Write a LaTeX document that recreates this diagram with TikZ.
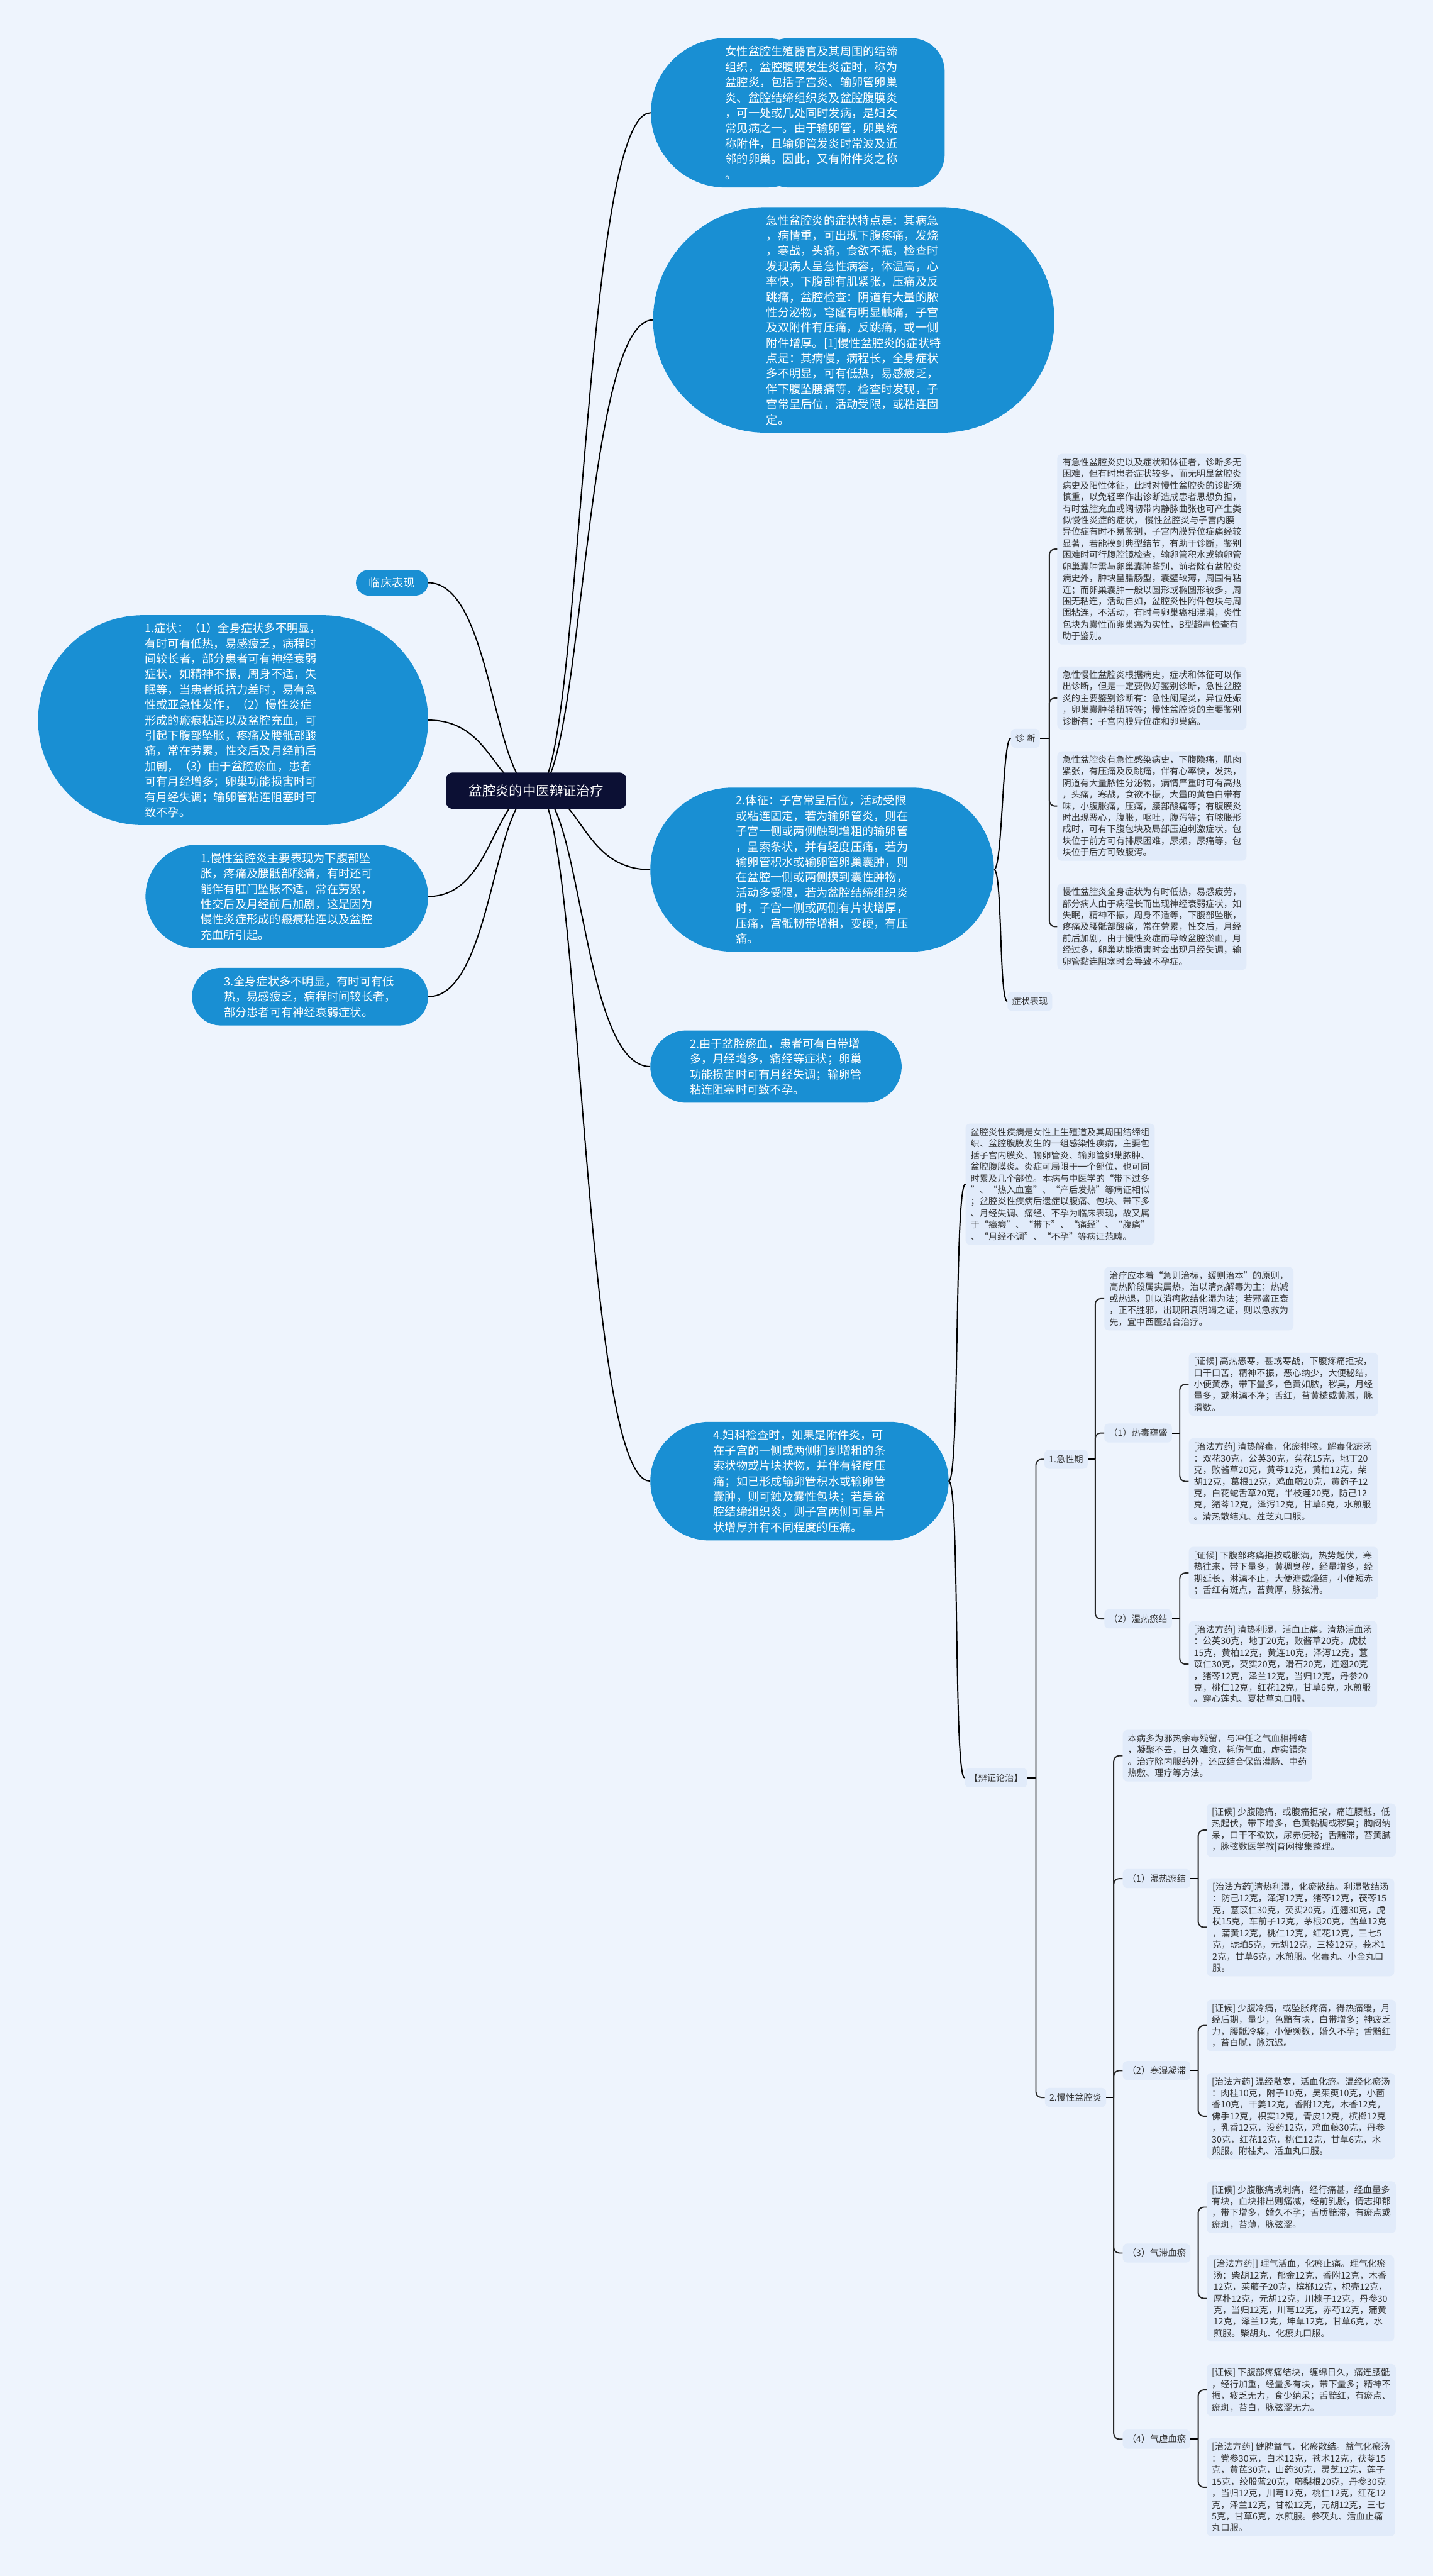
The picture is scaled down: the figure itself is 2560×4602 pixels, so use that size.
\documentclass[tikz,border=0pt]{standalone}
\usepackage{fontspec}
\newfontfamily\cjk{Noto Sans CJK SC}
\usetikzlibrary{shapes.misc,calc}
\pgfdeclarelayer{bottom}
\pgfdeclarelayer{lines}
\pgfsetlayers{bottom,lines,main}
\definecolor{bg}{RGB}{238,244,253}
\definecolor{leafbg}{RGB}{225,235,250}
\definecolor{bluen}{RGB}{25,143,211}
\definecolor{rootc}{RGB}{12,16,52}
\definecolor{txt}{RGB}{51,51,51}
\newcommand\mylinkright[1]{\draw[conn] (root.center) .. controls ($(root.center)!0.4!(#1.west |- root.center)$) and ($(#1.west)!0.6!(root.center |- #1.west)$) .. (#1.west);}
\newcommand\mylinkleft[1]{\draw[conn] (root.center) .. controls ($(root.center)!0.4!(#1.east |- root.center)$) and ($(#1.east)!0.6!(root.center |- #1.east)$) .. (#1.east);}
\begin{document}
\begin{tikzpicture}[x=1pt,y=-1pt,
 bluenode/.style={rounded rectangle, fill=bluen, text=white, font=\cjk\fontsize{20.5}{27.4}\selectfont, align=left, inner sep=0pt},
 bluetext/.style={text=white, font=\cjk\fontsize{20.5}{27.4}\selectfont, align=left, inner sep=0pt},
 leaf/.style={rectangle, rounded corners=8pt, fill=leafbg, text=txt, font=\cjk\fontsize{16}{20.7}\selectfont, align=left, anchor=west, inner xsep=9pt, inner ysep=7.5pt, minimum width=335pt},
 lbl/.style={rectangle, rounded corners=8pt, fill=leafbg, text=txt, font=\cjk\fontsize{16}{20}\selectfont, anchor=west, inner xsep=8pt, minimum height=34pt},
 conn/.style={draw=black, line width=2.2pt},
 brk/.style={draw=black!85, line width=2.2pt, rounded corners=10pt},
]
\begin{pgfonlayer}{bottom}
\fill[bg] (0,0) rectangle (2560,4602);
\end{pgfonlayer}

% root
\node[rectangle, rounded corners=12pt, fill=rootc, text=white, font=\cjk\fontsize{24}{28}\selectfont, minimum width=322pt, minimum height=65pt] (root) at (958,1412.5) {盆腔炎的中医辩证治疗};

% right blue nodes
\node[minimum width=525pt, minimum height=267pt, inner sep=0pt] (n1) at (1425.5,201.5) {};
\node[rounded rectangle, fill=bluen, minimum width=337pt, minimum height=267pt, inner sep=0pt, anchor=west] (n1a) at (n1.west) {};
\node[rectangle, rounded corners=60pt, fill=bluen, minimum width=338pt, minimum height=267pt, inner sep=0pt, anchor=east] (n1b) at (n1.east) {};
\node[bluetext] (n1t) at (1450,201.5) {女性盆腔生殖器官及其周围的结缔\\组织，盆腔腹膜发生炎症时，称为\\盆腔炎，包括子宫炎、输卵管卵巢\\炎、盆腔结缔组织炎及盆腔腹膜炎\\，可一处或几处同时发病，是妇女\\常见病之一。由于输卵管，卵巢统\\称附件，且输卵管发炎时常波及近\\邻的卵巢。因此，又有附件炎之称\\。};
\node[bluenode, minimum width=717pt, minimum height=403pt] (n2) at (1525.5,571.5) {急性盆腔炎的症状特点是：其病急\\，病情重，可出现下腹疼痛，发烧\\，寒战，头痛，食欲不振，检查时\\发现病人呈急性病容，体温高，心\\率快，下腹部有肌紧张，压痛及反\\跳痛，盆腔检查：阴道有大量的脓\\性分泌物，穹窿有明显触痛，子宫\\及双附件有压痛，反跳痛，或一侧\\附件增厚。[1]慢性盆腔炎的症状特\\点是：其病慢，病程长，全身症状\\多不明显，可有低热，易感疲乏，\\伴下腹坠腰痛等，检查时发现，子\\宫常呈后位，活动受限，或粘连固\\定。};
\node[bluenode, minimum width=614pt, minimum height=293pt] (n3) at (1469,1553.5) {2.体征：子宫常呈后位，活动受限\\或粘连固定，若为输卵管炎，则在\\子宫一侧或两侧触到增粗的输卵管\\，呈索条状，并有轻度压痛，若为\\输卵管积水或输卵管卵巢囊肿，则\\在盆腔一侧或两侧摸到囊性肿物，\\活动多受限，若为盆腔结缔组织炎\\时，子宫一侧或两侧有片状增厚，\\压痛，宫骶韧带增粗，变硬，有压\\痛。};
\node[bluenode, minimum width=449pt, minimum height=129pt] (n4) at (1386.5,1905.5) {2.由于盆腔瘀血，患者可有白带增\\多，月经增多，痛经等症状；卵巢\\功能损害时可有月经失调；输卵管\\粘连阻塞时可致不孕。};
\node[bluenode, minimum width=533pt, minimum height=212pt] (n5) at (1428.5,2646) {4.妇科检查时，如果是附件炎，可\\在子宫的一侧或两侧扪到增粗的条\\索状物或片块状物，并伴有轻度压\\痛；如已形成输卵管积水或输卵管\\囊肿，则可触及囊性包块；若是盆\\腔结缔组织炎，则子宫两侧可呈片\\状增厚并有不同程度的压痛。};

% left blue nodes
\node[bluenode, minimum width=129pt, minimum height=46pt] (L1) at (700.5,1041) {临床表现};
\node[bluenode, minimum width=697pt, minimum height=375pt] (L2) at (416.5,1286.5) {1.症状：（1）全身症状多不明显，\\有时可有低热，易感疲乏，病程时\\间较长者，部分患者可有神经衰弱\\症状，如精神不振，周身不适，失\\眠等，当患者抵抗力差时，易有急\\性或亚急性发作，（2）慢性炎症\\形成的瘢痕粘连以及盆腔充血，可\\引起下腹部坠胀，疼痛及腰骶部酸\\痛，常在劳累，性交后及月经前后\\加剧，（3）由于盆腔瘀血，患者\\可有月经增多；卵巢功能损害时可\\有月经失调；输卵管粘连阻塞时可\\致不孕。};
\node[bluenode, minimum width=505pt, minimum height=185pt] (L3) at (512.5,1601.5) {1.慢性盆腔炎主要表现为下腹部坠\\胀，疼痛及腰骶部酸痛，有时还可\\能伴有肛门坠胀不适，常在劳累，\\性交后及月经前后加剧，这是因为\\慢性炎症形成的瘢痕粘连以及盆腔\\充血所引起。};
\node[bluenode, minimum width=422pt, minimum height=103pt] (L4) at (554,1780.5) {3.全身症状多不明显，有时可有低\\热，易感疲乏，病程时间较长者，\\部分患者可有神经衰弱症状。};

% root connectors (start hidden under the root node)
\begin{pgfonlayer}{lines}
\mylinkright{n1}
\mylinkright{n2}
\mylinkright{n3}
\mylinkright{n4}
\mylinkright{n5}
\mylinkleft{L1}
\mylinkleft{L2}
\mylinkleft{L3}
\mylinkleft{L4}
\end{pgfonlayer}

% 诊断 group
\node[lbl, anchor=east] (zd) at (1858,1319) {诊 断};
\node[lbl] (zz) at (1800,1789) {症状表现};
\draw[conn] (n3.east) .. controls +(15,0) and +(-15,0) .. (zd.west);
\draw[conn] (n3.east) .. controls +(15,0) and +(-15,0) .. (zz.west);

\node[leaf] (zd1) at (1889,981) {有急性盆腔炎史以及症状和体征者，诊断多无\\困难，但有时患者症状较多，而无明显盆腔炎\\病史及阳性体征，此时对慢性盆腔炎的诊断须\\慎重，以免轻率作出诊断造成患者思想负担，\\有时盆腔充血或阔韧带内静脉曲张也可产生类\\似慢性炎症的症状， 慢性盆腔炎与子宫内膜\\异位症有时不易鉴别，子宫内膜异位症痛经较\\显著，若能摸到典型结节，有助于诊断，鉴别\\困难时可行腹腔镜检查，输卵管积水或输卵管\\卵巢囊肿需与卵巢囊肿鉴别，前者除有盆腔炎\\病史外，肿块呈腊肠型，囊壁较薄，周围有粘\\连；而卵巢囊肿一般以圆形或椭圆形较多，周\\围无粘连，活动自如，盆腔炎性附件包块与周\\围粘连，不活动，有时与卵巢癌相混淆，炎性\\包块为囊性而卵巢癌为实性，B型超声检查有\\助于鉴别。};
\node[leaf] (zd2) at (1889,1247) {急性慢性盆腔炎根据病史，症状和体征可以作\\出诊断，但是一定要做好鉴别诊断，急性盆腔\\炎的主要鉴别诊断有：急性阑尾炎，异位妊娠\\，卵巢囊肿蒂扭转等；慢性盆腔炎的主要鉴别\\诊断有：子宫内膜异位症和卵巢癌。};
\node[leaf] (zd3) at (1889,1440) {急性盆腔炎有急性感染病史，下腹隐痛，肌肉\\紧张，有压痛及反跳痛，伴有心率快，发热，\\阴道有大量脓性分泌物，病情严重时可有高热\\，头痛，寒战，食欲不振，大量的黄色白带有\\味，小腹胀痛，压痛，腰部酸痛等；有腹膜炎\\时出现恶心，腹胀，呕吐，腹泻等；有脓胀形\\成时，可有下腹包块及局部压迫刺激症状，包\\块位于前方可有排尿困难，尿频，尿痛等，包\\块位于后方可致腹泻。};
\node[leaf] (zd4) at (1889,1655.5) {慢性盆腔炎全身症状为有时低热，易感疲劳，\\部分病人由于病程长而出现神经衰弱症状，如\\失眠，精神不振，周身不适等，下腹部坠胀，\\疼痛及腰骶部酸痛，常在劳累，性交后，月经\\前后加剧，由于慢性炎症而导致盆腔淤血，月\\经过多，卵巢功能损害时会出现月经失调，输\\卵管黏连阻塞时会导致不孕症。};
\coordinate (bzd) at (1875,1319);
\draw[conn] (zd.east) -- (bzd);
\foreach \c in {zd1,zd2,zd3,zd4} \draw[brk] (bzd) |- (\c.west);

% 4.妇科 group
\node[leaf] (pq) at (1725,2115.5) {盆腔炎性疾病是女性上生殖道及其周围结缔组\\织、盆腔腹膜发生的一组感染性疾病，主要包\\括子宫内膜炎、输卵管炎、输卵管卵巢脓肿、\\盆腔腹膜炎。炎症可局限于一个部位，也可同\\时累及几个部位。本病与中医学的“带下过多\\”、“热入血室”、“产后发热”等病证相似\\；盆腔炎性疾病后遗症以腹痛、包块、带下多\\、月经失调、痛经、不孕为临床表现，故又属\\于“癥瘕”、“带下”、“痛经”、“腹痛”\\、“月经不调”、“不孕”等病证范畴。};
\node[lbl, anchor=east] (bz) at (1836,3176) {【辨证论治】};
\draw[conn] (n5.east) .. controls +(20,0) and +(-20,0) .. (pq.west);
\draw[conn] (n5.east) .. controls +(20,0) and +(-20,0) .. (bz.west);

\node[lbl] (jx) at (1866,2607) {1.急性期};
\node[lbl] (mx) at (1867,3747) {2.慢性盆腔炎};
\coordinate (bbz) at (1851,3176);
\draw[conn] (bz.east) -- (bbz);
\draw[brk] (bbz) |- (jx.west);
\draw[brk] (bbz) |- (mx.west);

% 急性期
\node[leaf] (zl) at (1973,2320) {治疗应本着“急则治标，缓则治本”的原则，\\高热阶段属实属热，治以清热解毒为主；热减\\或热退，则以消瘕散结化湿为法；若邪盛正衰\\，正不胜邪，出现阳衰阴竭之证，则以急救为\\先，宜中西医结合治疗。};
\node[lbl] (rd) at (1973,2560) {（1）热毒壅盛};
\node[lbl] (sr) at (1973,2892) {（2）湿热瘀结};
\coordinate (bjx) at (1957,2607);
\draw[conn] (jx.east) -- (bjx);
\foreach \c in {zl,rd,sr} \draw[brk] (bjx) |- (\c.west);

\node[leaf] (rd1) at (2124,2473) {[证候] 高热恶寒，甚或寒战，下腹疼痛拒按，\\口干口苦，精神不振，恶心纳少，大便秘结，\\小便黄赤，带下量多，色黄如脓，秽臭，月经\\量多，或淋漓不净；舌红，苔黄糙或黄腻，脉\\滑数。};
\node[leaf] (rd2) at (2124,2646.5) {[治法方药] 清热解毒，化瘀排脓。解毒化瘀汤\\：双花30克，公英30克，菊花15克，地丁20\\克，败酱草20克，黄芩12克，黄柏12克，柴\\胡12克，葛根12克，鸡血藤20克，黄药子12\\克，白花蛇舌草20克，半枝莲20克，防己12\\克，猪苓12克，泽泻12克，甘草6克，水煎服\\。清热散结丸、莲芝丸口服。};
\coordinate (brd) at (2108,2560);
\draw[conn] (rd.east) -- (brd);
\foreach \c in {rd1,rd2} \draw[brk] (brd) |- (\c.west);

\node[leaf] (sr1) at (2124,2810) {[证候] 下腹部疼痛拒按或胀满，热势起伏，寒\\热往来，带下量多，黄稠臭秽，经量增多，经\\期延长，淋漓不止，大便溏或燥结，小便短赤\\；舌红有斑点，苔黄厚，脉弦滑。};
\node[leaf] (sr2) at (2124,2973) {[治法方药] 清热利湿，活血止痛。清热活血汤\\：公英30克，地丁20克，败酱草20克，虎杖\\15克，黄柏12克，黄连10克，泽泻12克，薏\\苡仁30克，芡实20克，滑石20克，连翘20克\\，猪苓12克，泽兰12克，当归12克，丹参20\\克，桃仁12克，红花12克，甘草6克，水煎服\\。穿心莲丸、夏枯草丸口服。};
\coordinate (bsr) at (2108,2892);
\draw[conn] (sr.east) -- (bsr);
\foreach \c in {sr1,sr2} \draw[brk] (bsr) |- (\c.west);

% 慢性盆腔炎
\node[leaf] (bb) at (2006,3136.5) {本病多为邪热余毒残留，与冲任之气血相搏结\\，凝聚不去，日久难愈，耗伤气血，虚实错杂\\。治疗除内服药外，还应结合保留灌肠、中药\\热敷、理疗等方法。};
\node[lbl] (ms) at (2006,3356) {（1）湿热瘀结};
\node[lbl] (hs) at (2006,3699) {（2）寒湿凝滞};
\node[lbl] (qz) at (2006,4025) {（3）气滞血瘀};
\node[lbl] (qx) at (2006,4357.5) {（4）气虚血瘀};
\coordinate (bmx) at (1990,3747);
\draw[conn] (mx.east) -- (bmx);
\foreach \c in {bb,ms,hs,qz,qx} \draw[brk] (bmx) |- (\c.west);

\node[leaf] (ms1) at (2156,3269.5) {[证候] 少腹隐痛，或腹痛拒按，痛连腰骶，低\\热起伏，带下增多，色黄黏稠或秽臭；胸闷纳\\呆，口干不欲饮，尿赤便秘；舌黯滞，苔黄腻\\，脉弦数医学教|育网搜集整理。};
\node[leaf] (ms2) at (2156,3443) {[治法方药]清热利湿，化瘀散结。利湿散结汤\\：防己12克，泽泻12克，猪苓12克，茯苓15\\克，薏苡仁30克，芡实20克，连翘30克，虎\\杖15克，车前子12克，茅根20克，茜草12克\\，蒲黄12克，桃仁12克，红花12克，三七5\\克，琥珀5克，元胡12克，三棱12克，莪术1\\2克，甘草6克，水煎服。化毒丸、小金丸口\\服。};
\coordinate (bms) at (2141,3356);
\draw[conn] (ms.east) -- (bms);
\foreach \c in {ms1,ms2} \draw[brk] (bms) |- (\c.west);

\node[leaf] (hs1) at (2156,3618.5) {[证候] 少腹冷痛，或坠胀疼痛，得热痛缓，月\\经后期，量少，色黯有块，白带增多；神疲乏\\力，腰骶冷痛，小便频数，婚久不孕；舌黯红\\，苔白腻，脉沉迟。};
\node[leaf] (hs2) at (2156,3780.5) {[治法方药] 温经散寒，活血化瘀。温经化瘀汤\\：肉桂10克，附子10克，吴茱萸10克，小茴\\香10克，干姜12克，香附12克，木香12克，\\佛手12克，枳实12克，青皮12克，槟榔12克\\，乳香12克，没药12克，鸡血藤30克，丹参\\30克，红花12克，桃仁12克，甘草6克，水\\煎服。附桂丸、活血丸口服。};
\coordinate (bhs) at (2141,3699);
\draw[conn] (hs.east) -- (bhs);
\foreach \c in {hs1,hs2} \draw[brk] (bhs) |- (\c.west);

\node[leaf] (qz1) at (2156,3943) {[证候] 少腹胀痛或刺痛，经行痛甚，经血量多\\有块，血块排出则痛减，经前乳胀，情志抑郁\\，带下增多，婚久不孕；舌质黯滞，有瘀点或\\瘀斑，苔薄，脉弦涩。};
\node[leaf] (qz2) at (2156,4106) {[治法方药]] 理气活血，化瘀止痛。理气化瘀\\汤：柴胡12克，郁金12克，香附12克，木香\\12克，莱菔子20克，槟榔12克，枳壳12克，\\厚朴12克，元胡12克，川楝子12克，丹参30\\克，当归12克，川芎12克，赤芍12克，蒲黄\\12克，泽兰12克，坤草12克，甘草6克，水\\煎服。柴胡丸、化瘀丸口服。};
\coordinate (bqz) at (2141,4025);
\draw[conn] (qz.east) -- (bqz);
\foreach \c in {qz1,qz2} \draw[brk] (bqz) |- (\c.west);

\node[leaf] (qx1) at (2156,4269.5) {[证候] 下腹部疼痛结块，缠绵日久，痛连腰骶\\，经行加重，经量多有块，带下量多；精神不\\振，疲乏无力，食少纳呆；舌黯红，有瘀点、\\瘀斑，苔白，脉弦涩无力。};
\node[leaf] (qx2) at (2156,4443.5) {[治法方药] 健脾益气，化瘀散结。益气化瘀汤\\：党参30克，白术12克，苍术12克，茯苓15\\克，黄芪30克，山药30克，灵芝12克，莲子\\15克，绞股蓝20克，藤梨根20克，丹参30克\\，当归12克，川芎12克，桃仁12克，红花12\\克，泽兰12克，甘松12克，元胡12克，三七\\5克，甘草6克，水煎服。参茯丸、活血止痛\\丸口服。};
\coordinate (bqx) at (2141,4357.5);
\draw[conn] (qx.east) -- (bqx);
\foreach \c in {qx1,qx2} \draw[brk] (bqx) |- (\c.west);
\end{tikzpicture}
\end{document}
